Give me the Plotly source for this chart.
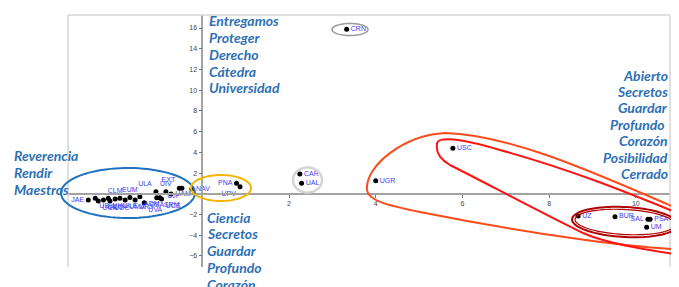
import numpy as np
import plotly.graph_objects as go

# ---------------- data ----------------
names = ["JAE", "UBU", "UCA", "UCO", "UHU", "UDC", "CLM", "ULE", "UMA", "URJ", "EUM",
         "ADM", "UVA", "ULA", "UIV", "EXT", "UJI", "UAM", "NAV", "OSA", "SRM", "UCS",
         "PNA", "UPV", "CAR", "UAL", "UGR", "USC", "CRN", "UZ", "BUR", "SAL", "PSA", "UM"]
x_vals = [-2.63, -2.47, -2.40, -2.28, -2.17, -2.13, -2.01, -1.90, -1.78, -1.55, -1.67,
          -1.44, -1.34, -1.07, -0.84, -0.53, -0.47, -0.72, -0.24, -1.05, -0.98, -0.94,
          0.79, 0.87, 2.25, 2.29, 4.00, 5.78, 3.33, 8.67, 9.52, 10.28, 10.33, 10.25]
y_vals = [-0.60, -0.43, -0.69, -0.60, -0.43, -0.69, -0.50, -0.43, -0.60, -0.60, -0.36,
          -0.28, -0.86, 0.20, 0.20, 0.53, 0.53, -0.02, 0.46, -0.38, -0.38, -0.50,
          1.01, 0.69, 1.91, 1.01, 1.26, 4.39, 15.88, -2.14, -2.21, -2.46, -2.46, -3.23]
label_pos = ["middle left", "bottom right", "bottom right", "bottom right", "bottom right",
             "bottom right", "top center", "bottom right", "bottom right", "bottom right",
             "top center", "bottom right", "bottom right", "top left", "top center",
             "top left", "bottom left", "middle right", "middle right", "bottom center",
             "bottom right", "bottom right",
             "middle left", "bottom left", "middle right", "middle right", "middle right",
             "middle right", "middle right", "middle right", "middle right", "middle left",
             "middle right", "middle right"]

x_ticks = [2, 4, 6, 8, 10]
y_ticks = [-6, -4, -2, 2, 4, 6, 8, 10, 12, 14, 16]

text_top = ["Entregamos", "Proteger", "Derecho", "Cátedra", "Universidad"]
text_left = ["Reverencia", "Rendir", "Maestros"]
text_bottom = ["Ciencia", "Secretos", "Guardar", "Profundo", "Corazón"]
text_right = ["Abierto", "Secretos", "Guardar", "Profundo ", "Corazón", "Posibilidad", "Cerrado"]

# ---------------- layout geometry ----------------
OFF = 8                      # page body margin of the browser
W, H = 679 - OFF, 287 - OFF
ML, MR, MT, MB = 68 - OFF, 9, 15 - OFF, 20
x_range = [-3.098, 10.789]
y_range = [-7.066, 17.259]
PW, PH = W - ML - MR, H - MT - MB


def P(px, py):
    """screen pixel (reference image) -> paper coordinates"""
    px -= OFF
    py -= OFF
    return (px - ML) / PW, (H - MB - py) / PH


def ellipse_path(cx, cy, rx, ry, ang=0.0, n=90):
    t = np.linspace(0, 2 * np.pi, n)
    a = np.deg2rad(ang)
    xs = cx + rx * np.cos(t) * np.cos(a) - ry * np.sin(t) * np.sin(a)
    ys = cy + rx * np.cos(t) * np.sin(a) + ry * np.sin(t) * np.cos(a)
    pts = [P(x, y) for x, y in zip(xs, ys)]
    return "M " + " L ".join(f"{u:.5f},{v:.5f}" for u, v in pts) + " Z"


def bezier_path(segs):
    (sx, sy), rest = segs[0], segs[1:]
    u, v = P(sx, sy)
    s = f"M {u:.5f},{v:.5f}"
    for seg in rest:
        pts = [P(a, b) for a, b in seg]
        s += " C " + " ".join(f"{a:.5f},{b:.5f}" for a, b in pts)
    return s + " Z"


fig = go.Figure()
fig.add_trace(go.Scatter(
    x=x_vals, y=y_vals, mode="markers+text", text=names, textposition=label_pos,
    marker=dict(color="black", size=5),
    textfont=dict(family="Liberation Sans", size=7, color="#3C3CF2"),
    cliponaxis=False, hoverinfo="text", showlegend=False))

shapes = []
for (x0, y0, x1, y1) in [(0, 0, 0, 1), (0, 1, 1, 1), (1, 1, 1, 0)]:
    shapes.append(dict(type="line", xref="paper", yref="paper", x0=x0, y0=y0, x1=x1, y1=y1,
                       line=dict(color="#D6D6D6", width=1.5)))

shapes += [
    dict(type="path", xref="paper", yref="paper", path=ellipse_path(128, 193, 67, 25),
         line=dict(color="#1F72C2", width=2)),
    dict(type="path", xref="paper", yref="paper", path=ellipse_path(221, 188, 30, 13),
         line=dict(color="#F7B500", width=2)),
    dict(type="path", xref="paper", yref="paper", path=ellipse_path(307.5, 180, 14.5, 12.5),
         line=dict(color="#D4D4D4", width=2.5)),
    dict(type="path", xref="paper", yref="paper", path=ellipse_path(350, 29.5, 18, 6),
         line=dict(color="#9A9A9A", width=1.5)),
    dict(type="path", xref="paper", yref="paper", path=ellipse_path(625, 222, 53, 15, 3),
         line=dict(color="#B00000", width=2)),
    dict(type="path", xref="paper", yref="paper", path=ellipse_path(625, 222, 50, 12.5, 3),
         line=dict(color="#B00000", width=1.2)),
    dict(type="path", xref="paper", yref="paper",
         path=bezier_path([(367, 190),
                           [(365, 165), (405, 135), (445, 133)],
                           [(520, 135), (620, 185), (700, 218)],
                           [(710, 225), (710, 245), (700, 250)],
                           [(640, 250), (520, 232), (420, 212)],
                           [(385, 205), (368, 200), (367, 190)]]),
         line=dict(color="#FF4A1A", width=2)),
    dict(type="path", xref="paper", yref="paper",
         path=bezier_path([(437, 144),
                           [(437, 136), (460, 138), (500, 150)],
                           [(580, 172), (640, 198), (700, 222)],
                           [(710, 230), (710, 252), (700, 258)],
                           [(660, 252), (610, 245), (583, 233)],
                           [(540, 212), (480, 180), (450, 165)],
                           [(438, 158), (436, 150), (437, 144)]]),
         line=dict(color="#FF1414", width=2)),
]

ann_font = dict(family="Lato", size=14, color="#2E70B5")
annotations = []


def block(lines, px, py0, step, xanchor):
    for i, s in enumerate(lines):
        u, v = P(px, py0 + i * step)
        annotations.append(dict(
            x=u, y=v, xref="paper", yref="paper", xanchor=xanchor, yanchor="middle",
            showarrow=False, font=ann_font, borderpad=0, text=f"<b><i>{s}</i></b>"))


block(text_top, 208, 20, 17, "left")
block(text_left, 13, 155, 17, "left")
block(text_bottom, 206, 217, 16.8, "left")
block(text_right, 669, 75, 16.4, "right")

xpos = (0 - x_range[0]) / (x_range[1] - x_range[0])
ypos = (0 - y_range[0]) / (y_range[1] - y_range[0])

axis_common = dict(showgrid=False, zeroline=False, showline=True, linecolor="#A3A3A3",
                   linewidth=1.5, ticks="outside", ticklen=3, tickcolor="#777777",
                   tickfont=dict(family="Liberation Sans", size=7, color="#444444"),
                   anchor="free", automargin=False, fixedrange=True)

fig.update_layout(
    width=W, height=H, margin=dict(l=ML, r=MR, t=MT, b=MB),
    paper_bgcolor="white", plot_bgcolor="white",
    xaxis=dict(range=x_range, tickvals=x_ticks, position=ypos, **axis_common),
    yaxis=dict(range=y_range, tickvals=y_ticks, position=xpos, **axis_common),
    shapes=shapes, annotations=annotations, showlegend=False)

fig.write_html("out.html")
